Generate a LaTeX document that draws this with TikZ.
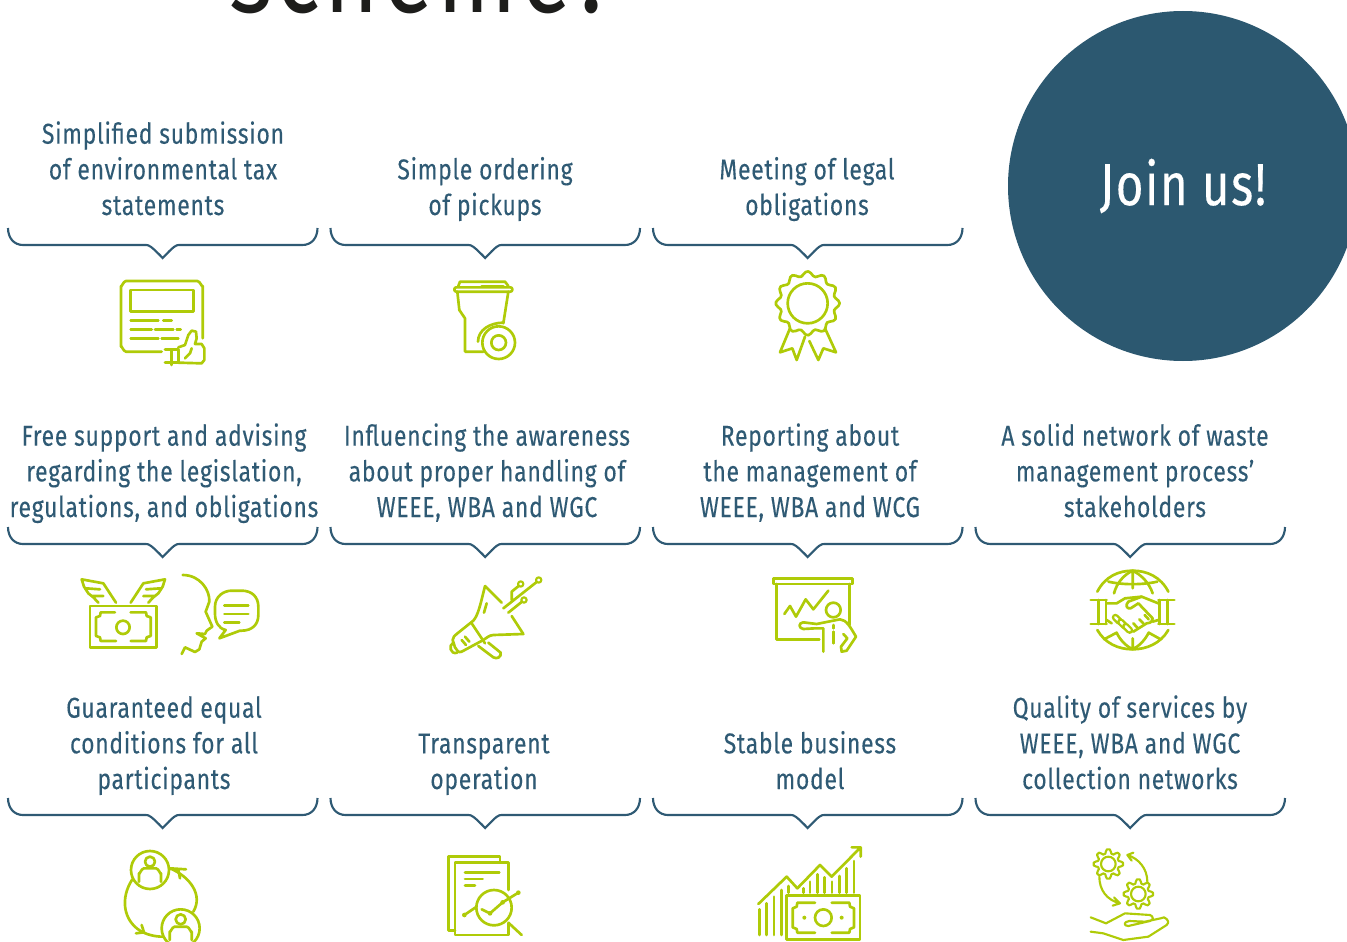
\documentclass[tikz,border=0pt]{standalone}
\usepackage{fontspec}
\setmainfont{Fira Sans}[FakeStretch=0.8,LetterSpace=2.5,FakeBold=0.2]
\newfontfamily\headfont{Fira Sans}[FakeStretch=0.8,LetterSpace=3.5]
\definecolor{navy}{HTML}{2F5A74}
\definecolor{disc}{HTML}{2C5870}
\definecolor{lime}{HTML}{AFCB08}
\definecolor{ink}{HTML}{1D1D1B}
\tikzset{
 lbl/.style={text=navy,font=\fontsize{21.5}{26.75}\selectfont,align=center,anchor=base,inner sep=0pt},
 ic/.style={draw=lime,line width=2pt,line cap=round,line join=round},
 icthin/.style={ic,line width=1.6pt},
 zoomed/.style={shift={#1},x=0.25pt,y=-0.25pt},
 bracket/.pic={\draw[navy,line width=1.6pt,line join=miter]
   (0,0) .. controls (0,10) and (6,17) .. (15,17) -- (138,17) .. controls (141,17) and (143,18) .. (154.7,30)
   .. controls (166,18) and (168,17) .. (171,17) -- (294.5,17) .. controls (303.5,17) and (309.5,10) .. (309.5,0);}
}
\begin{document}
\begin{tikzpicture}[x=0.75pt,y=-0.75pt]
\path[use as bounding box] (0,0) rectangle (1347,942);
\clip (0,0) rectangle (1347,942);
\node[text=ink,font=\headfont\fontsize{87}{90}\selectfont,anchor=base,inner sep=0pt] (head) at (422,13) {scheme?};
\node[circle,fill=disc,minimum size=262.5pt,inner sep=0pt,text=white,font=\fontsize{44.6}{48}\selectfont] (join) at (1183,186) {Join us!};

\node[lbl] (t1) at (163,215) {Simplified submission\\of environmental tax\\statements};
\node[lbl] (t2) at (485,215) {Simple ordering\\of pickups};
\node[lbl] (t3) at (807,215) {Meeting of legal\\obligations};
\node[lbl] (t4) at (164,517) {Free support and advising\\regarding the legislation,\\regulations, and obligations};
\node[lbl] (t5) at (487,517) {Influencing the awareness\\about proper handling of\\WEEE, WBA and WGC};
\node[lbl] (t6) at (810,517) {Reporting about\\the management of\\WEEE, WBA and WCG};
\node[lbl] (t7) at (1135,517) {A solid network of waste\\management process’\\stakeholders};
\node[lbl] (t8) at (164,789) {Guaranteed equal\\conditions for all\\participants};
\node[lbl] (t9) at (484,789) {Transparent\\operation};
\node[lbl] (t10) at (810,789) {Stable business\\model};
\node[lbl] (t11) at (1130,789) {Quality of services by\\WEEE, WBA and WGC\\collection networks};

\foreach \yy in {228,527,798}{
  \foreach \xx in {8,330.5,653}{\pic at (\xx,\yy) {bracket};}
}
\pic at (975.5,527) {bracket};
\pic at (975.5,798) {bracket};

% tax statement
\begin{scope}[zoomed={(110,270)}]
\draw[ic] (155,245) -- (48,245) to[out=180,in=90] (33,230) -- (33,48) to[out=-90,in=180] (48,33) -- (262,33) to[out=0,in=-90] (278,48) -- (278,205);
\draw[ic] (62,60) rectangle (250,125);
\draw[ic] (62,152)--(145,152) (160,152)--(185,152) (62,178)--(125,178) (135,178)--(190,178) (200,178)--(212,178) (62,205)--(145,205) (155,205)--(205,205);
\draw[ic] (165,238)--(205,238)--(205,278)--(165,278) (185,238)--(185,285);
\draw[ic] (205,232)--(225,225)--(235,195)--(245,182)--(258,185)--(260,205)--(255,222)--(275,222)--(283,235)--(283,270)--(275,280)--(205,278);
\draw[ic] (225,265)--(240,250)--(245,235);
\end{scope}
% bin
\begin{scope}[zoomed={(440,270)}]
\draw[ic] (55,48)--(60,35)--(195,35)--(205,48);
\draw[ic,rounded corners=1.5pt] (43,52) rectangle (217,65);
\draw[ic] (125,48)--(190,48);
\draw[ic] (52,65)--(58,120)--(75,145)--(75,245)--(130,245) (205,65)--(190,160);
\draw[ic] (114,215) .. controls (114,180) and (150,158) .. (190,158);
\draw[ic] (176,218) circle (49);
\draw[ic] (176,218) circle (22);
\end{scope}
% rosette
\begin{scope}[zoomed={(760,265)}]
\draw[ic] plot[smooth cycle,samples=73,domain=0:355] ({143+(89+7*cos(12*\x))*cos(\x)},{115+(89+7*cos(12*\x))*sin(\x)});
\draw[ic] (143,115) circle (60);
\draw[ic] (90,190)--(60,262)--(97,250)--(110,285)--(135,215);
\draw[ic] (195,190)--(228,262)--(190,250)--(175,285)--(148,228);
\end{scope}
% money + face
\begin{scope}[zoomed={(60,560)}]
\draw[ic] (90,138) rectangle (290,262);
\draw[ic] (165,157)--(122,157)--(120,168)--(108,172)--(108,228)--(120,232)--(122,243)--(168,243);
\draw[ic] (212,157)--(258,157)--(260,168)--(272,172)--(272,228)--(260,232)--(258,243)--(212,243);
\draw[ic] (189,202) circle (20);
\draw[ic] (168,128)--(130,70)--(65,58)--(72,80)--(85,100)--(100,112)--(115,128) (78,85)--(120,88) (95,108)--(130,108);
\draw[ic] (212,128)--(250,70)--(315,58)--(308,80)--(295,100)--(280,112)--(265,128) (302,85)--(258,88) (285,108)--(250,108);
\draw[ic] (368,45) .. controls (420,45) and (450,90) .. (448,125) -- (437,155) -- (457,200) -- (440,212) -- (435,222) -- (410,220) -- (437,235) -- (425,245) -- (418,268) -- (405,276) -- (375,262) -- (365,282);
\draw[ic] (540,212) -- (478,235) -- (497,210) .. controls (475,205) and (465,185) .. (465,160) -- (465,140) .. controls (465,110) and (490,92) .. (515,92) -- (545,92) .. controls (575,92) and (595,110) .. (595,140) -- (595,165) .. controls (595,195) and (575,212) .. (545,212) -- cycle;
\draw[ic] (493,137)--(565,137) (493,162)--(565,162) (493,187)--(538,187);
% megaphone
\draw[ic] (1275,78)--(1325,128) (1355,168)--(1390,222)--(1300,225) .. controls (1285,226) and (1280,235) .. (1270,240) -- (1205,275) .. controls (1195,280) and (1190,270) .. (1185,262) -- (1178,240) .. controls (1178,232) and (1185,225) .. (1190,222) -- (1240,182) .. controls (1255,165) and (1262,130) .. (1275,78);
\draw[ic] (1235,190)--(1275,250);
\draw[ic] (1255,258)--(1300,292) .. controls (1310,298) and (1325,292) .. (1322,278) -- (1285,248);
\draw[ic] (1180,248) .. controls (1165,255) and (1170,285) .. (1192,278);
\draw[ic] (1205,240)--(1218,255) (1215,230)--(1228,245) (1280,130)--(1272,158);
\draw[ic] (1330,145)--(1430,66) (1345,158)--(1386,125) (1355,120)--(1355,95)--(1376,78);
\draw[icthin] (1436,60) circle (8) (1392,120) circle (8) (1382,72) circle (8);
\end{scope}
% presentation + globe
\begin{scope}[zoomed={(740,560)}]
\draw[ic] (100,55) rectangle (338,72);
\draw[ic] (110,72)--(110,238)--(238,238) (328,72)--(328,195);
\draw[ic] (133,162)--(150,138)--(168,170)--(197,118)--(220,148)--(265,92);
\draw[ic] (280,150) circle (22);
\draw[ic] (250,275)--(250,205)--(225,205)--(190,207) .. controls (175,205) and (175,188) .. (190,187) -- (230,192) -- (300,178) .. controls (320,180) and (330,200) .. (348,230) -- (320,272) -- (305,275) -- (303,260) -- (322,235) -- (310,222);
\draw[ic] (281,195)--(281,205) (281,215)--(281,250);
\draw[ic] (1072,95) .. controls (1095,50) and (1135,32) .. (1178,32) .. controls (1220,32) and (1262,50) .. (1285,95);
\draw[ic] (1072,210) .. controls (1095,250) and (1135,268) .. (1178,268) .. controls (1220,268) and (1262,250) .. (1285,210);
\draw[ic] (1122,100) .. controls (1130,70) and (1150,45) .. (1178,32) .. controls (1205,45) and (1228,70) .. (1238,100) (1178,32)--(1178,85);
\draw[ic] (1105,65) .. controls (1150,75) and (1205,75) .. (1252,65);
\draw[ic] (1178,235)--(1178,268) (1092,238)--(1130,218) .. controls (1140,240) and (1158,258) .. (1178,268) .. controls (1198,258) and (1215,240) .. (1226,218) -- (1262,238);
\draw[ic] (1052,120)--(1100,120) (1052,192)--(1100,192) (1075,120)--(1075,192) (1098,120)--(1098,192);
\draw[ic] (1255,120)--(1303,120) (1255,192)--(1303,192) (1258,120)--(1258,192) (1282,120)--(1282,192);
\draw[ic] (1100,130)--(1130,130)--(1155,115)--(1205,110)--(1255,130);
\draw[ic] (1205,110) -- (1165,125) .. controls (1155,135) and (1160,148) .. (1172,145) -- (1195,130) -- (1238,175) .. controls (1235,190) and (1225,190) .. (1220,190) -- (1180,215);
\draw[ic] (1100,180)--(1115,190) (1255,180)--(1238,185);
\foreach \cx/\cy in {1132/178,1148/192,1163/205}{
 \draw[lime,line width=1.8pt,line cap=round,double=white,double distance=1.8pt] ({\cx-6},{\cy-6})--({\cx+6},{\cy+6});}
\draw[ic] (1180,190)--(1192,203) (1198,178)--(1210,190) (1214,165)--(1226,178);
\end{scope}
% equal
\begin{scope}[zoomed={(100,840)}]
\draw[ic] (150,90) circle (57) (242,265) circle (57);
\draw[ic] (150,65) circle (15) (242,238) circle (15);
\draw[ic] (117,125)--(117,100) to[out=-90,in=180] (132,85)--(168,85) to[out=0,in=-90] (183,100)--(183,125);
\draw[ic] (209,300)--(209,275) to[out=-90,in=180] (224,260)--(260,260) to[out=0,in=-90] (275,275)--(275,300);
\draw[ic] (97,118) .. controls (60,175) and (70,240) .. (120,272) .. controls (140,284) and (165,290) .. (188,290);
\draw[ic] (210,85) .. controls (270,110) and (310,165) .. (280,215);
\draw[ic] (210,85)--(258,88) (235,90)--(240,115) (108,280)--(132,277)--(125,255);
\draw[ic] (1200,65)--(1200,50)--(1045,50)--(1045,272)--(1065,272);
\draw[ic] (1225,150)--(1225,67)--(1065,67)--(1065,285)--(1225,285)--(1225,250);
\draw[ic] (1095,98)--(1198,98) (1095,117)--(1148,117) (1095,137)--(1125,137);
\draw[ic] (1182,203) circle (53);
\draw[ic] (1225,248)--(1265,285);
\draw[ic] (1093,225)--(1130,200) (1145,208)--(1170,220)--(1208,187)--(1255,158);
\fill[lime] (1093,225) circle (7) (1170,220) circle (7) (1208,187) circle (7) (1255,158) circle (7);
\end{scope}
% growth + gears
\begin{scope}[zoomed={(740,840)}]
\draw[ic] (58,208)--(58,285) (80,190)--(80,285) (102,170)--(102,285) (124,150)--(124,285) (146,138)--(146,158) (190,145)--(190,158) (210,125)--(210,158) (232,103)--(232,158) (254,112)--(254,158) (276,125)--(276,158) (298,108)--(298,158) (320,85)--(320,158) (342,63)--(342,158);
\draw[ic] (55,192)--(140,110)--(172,145)--(240,75)--(275,110)--(362,22) (335,22)--(362,22)--(362,50);
\draw[ic] (140,167) rectangle (360,298);
\draw[ic] (225,188)--(172,188)--(170,200)--(158,205)--(158,262)--(170,267)--(172,278)--(225,278);
\draw[ic] (275,188)--(328,188)--(330,200)--(342,205)--(342,262)--(330,267)--(328,278)--(275,278);
\draw[ic] (250,233) circle (25);
\fill[lime] (193,233) circle (6) (305,233) circle (6);
\foreach \gx/\gy in {1105/72,1195/162}{
 \draw[icthin] plot[samples=65,domain=0:360] ({\gx+(38+6*max(-1,min(1,2.5*cos(8*\x))))*cos(\x)},{\gy+(38+6*max(-1,min(1,2.5*cos(8*\x))))*sin(\x)});
 \draw[icthin] (\gx,\gy) circle (22);
}
\draw[icthin] (1222,125) .. controls (1222,85) and (1195,55) .. (1162,45) (1180,38)--(1162,45)--(1175,62);
\draw[icthin] (1078,110) .. controls (1078,150) and (1100,180) .. (1140,190) (1122,172)--(1140,190)--(1118,197);
\draw[icthin] (1052,232)--(1098,250)--(1155,220)--(1230,225) .. controls (1240,228) and (1242,240) .. (1230,243) -- (1165,258) .. controls (1150,258) and (1150,245) .. (1168,243) -- (1215,245) -- (1262,235) -- (1272,232) .. controls (1285,238) and (1288,248) .. (1280,255) -- (1225,290) -- (1150,300) -- (1090,280) -- (1052,275);
\end{scope}
\end{tikzpicture}
\end{document}
